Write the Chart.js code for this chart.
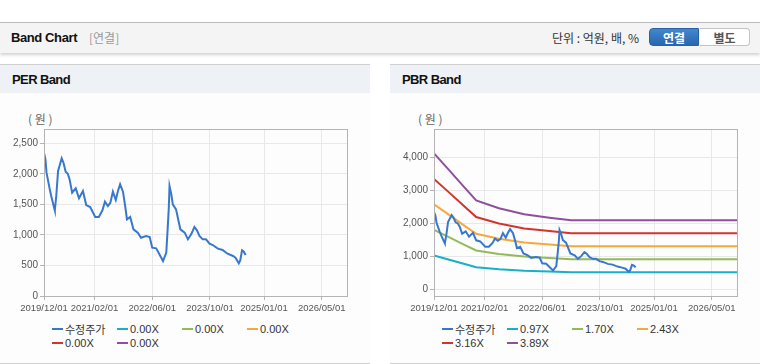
<!DOCTYPE html>
<html>
<head>
<meta charset="utf-8">
<script src="https://cdn.jsdelivr.net/npm/chart.js@4/dist/chart.umd.min.js"></script>
<style>
  body { margin: 0; width: 760px; height: 364px; background: #fff; position: relative; overflow: hidden;
         font-family: "Liberation Sans", "Noto Sans CJK KR", sans-serif; }
  #top { position: absolute; left: 0; top: 22px; width: 760px; height: 30px; background: #f4f4f4;
         border-top: 1px solid #bdbdbd; box-shadow: 0 2px 3px rgba(0,0,0,0.18); }
  #top .ttl { position: absolute; left: 11px; top: 7px; font-size: 13px; font-weight: bold; color: #111; letter-spacing: -0.4px; }
  #top .sub { position: absolute; left: 89px; top: 7px; font-size: 12px; color: #999; font-family: "Noto Sans CJK KR", sans-serif; line-height: 16px; }
  #top .unit { position: absolute; left: 552px; top: 6px; font-size: 12px; color: #333; font-family: "Noto Sans CJK KR", sans-serif; line-height: 18px; }
  .btn { position: absolute; top: 5px; height: 18px; width: 50px; text-align: center; font-size: 12px; font-weight: bold;
         line-height: 18px; font-family: "Noto Sans CJK KR", sans-serif; box-sizing: border-box; }
  .btn.on { left: 649px; background: linear-gradient(#4187cf, #2a66ae); color: #fff; border: 1px solid #2a60a4; border-radius: 4px 0 0 4px; }
  .btn.off { left: 700px; background: #fff; color: #555; border: 1px solid #c4c4c4; border-left: none; border-radius: 0 4px 4px 0; }
  .panel { position: absolute; top: 64px; width: 370px; height: 298px; background: #fdfdfd;
           border-top: 1px solid #d0d0d0; border-bottom: 1px solid #d0d0d0; }
  .panel .ph { height: 28px; background: #eef2f7; font-size: 13px; font-weight: bold; color: #111;
               padding-left: 12px; line-height: 29px; letter-spacing: -0.6px; }
  .panel .won { position: absolute; left: 28px; top: 45px; font-size: 12px; color: #666; font-family: "Noto Sans CJK KR", sans-serif; }
  .panel canvas { position: absolute; left: 0; top: 29px; }
  .legend { position: absolute; left: 52px; top: 257px; width: 264px; display: flex; flex-wrap: wrap; }
  .legend .it { width: 65px; height: 14px; display: flex; align-items: center; font-size: 11px; color: #333; }
  .legend .mk { width: 11px; height: 2px; margin-right: 2px; }
</style>
</head>
<body>
<div id="top">
  <span class="ttl">Band Chart</span><span class="sub">[연결]</span>
  <span class="unit">단위 : 억원, 배, %</span>
  <div class="btn on">연결</div><div class="btn off">별도</div>
</div>

<div class="panel" style="left:0">
  <div class="ph">PER Band</div>
  <div class="won">( 원 )</div>
  <canvas id="perChart" width="370" height="225"></canvas>
  <div class="legend" id="perLegend"></div>
</div>

<div class="panel" style="left:390px">
  <div class="ph">PBR Band</div>
  <div class="won">( 원 )</div>
  <canvas id="pbrChart" width="370" height="225"></canvas>
  <div class="legend" id="pbrLegend"></div>
</div>

<script>
// x values are months counted from 2019/12/01
const tickMonths = [0, 14, 30, 46, 61, 77];
const tickLabels = ["2019/12/01", "2021/02/01", "2022/06/01", "2023/10/01", "2025/01/01", "2026/05/01"];

const priceMonths = [0, 0.4, 0.7, 1.6, 2.0, 2.8, 3.0, 3.4, 3.9, 4.3,
  4.9, 5.4, 6.0, 6.6, 7.1, 7.8, 8.8, 9.7, 10.8, 11.7,
  12.8, 14.2, 15.2, 16.2, 16.9, 17.7, 18.4, 19.1, 19.9, 20.5,
  21.1, 21.9, 22.5, 23.0, 23.9, 24.8, 26.0, 26.9, 28.3, 29.3,
  30.0, 31.1, 33.0, 33.9, 34.3, 34.6, 34.8, 35.3, 35.7, 36.6,
  37.8, 39.0, 39.9, 40.8, 41.7, 42.4, 43.1, 44.0, 44.9, 45.9,
  46.8, 48.2, 49.5, 50.9, 52.4, 53.1, 54.0, 54.4, 54.9, 55.4,
  55.9];
const priceValues = [2347, 2238, 2020, 1747, 1638, 1447, 1403, 1638, 2047, 2129,
  2254, 2183, 2036, 2003, 1910, 1692, 1763, 1600, 1719, 1490,
  1457, 1294, 1294, 1403, 1545, 1474, 1528, 1709, 1572, 1719,
  1829, 1709, 1474, 1255, 1294, 1092, 1037, 955, 983, 966,
  792, 781, 573, 710, 1119, 1447, 1801, 1665, 1501, 1419,
  1092, 1037, 928, 1010, 1130, 1075, 983, 928, 928, 857,
  835, 775, 753, 693, 655, 628, 535, 584, 748, 726,
  671];

// PBR bands
const bandMonths = [0, 4, 8, 11.7, 18, 25, 32, 38, 84];
const band097 = [1030, 909, 786, 674, 614, 568, 543, 523, 523];
const band170 = [1805, 1593, 1377, 1182, 1076, 996, 952, 916, 916];
const band243 = [2581, 2277, 1968, 1689, 1538, 1424, 1361, 1310, 1310];
const band316 = [3356, 2961, 2560, 2196, 2000, 1852, 1770, 1703, 1703];
const band389 = [4131, 3645, 3151, 2704, 2462, 2280, 2178, 2097, 2097];

const seriesColors = ["#3778cd", "#17b0c6", "#92bb58", "#f4a93b", "#d2352b", "#8f4f9c"];
const perLabels = ["수정주가", "0.00X", "0.00X", "0.00X", "0.00X", "0.00X"];
const pbrLabels = ["수정주가", "0.97X", "1.70X", "2.43X", "3.16X", "3.89X"];

const perTicks = [0, 500, 1000, 1500, 2000, 2500];
const pbrTicks = [0, 1000, 2000, 3000, 4000];

function pts(xs, ys) {
  return xs.map((x, i) => ({ x: x, y: ys[i] }));
}

function lineSet(label, data, color) {
  return { label: label, data: data, borderColor: color, borderWidth: 2, pointRadius: 0, tension: 0, fill: false };
}

// draws the top and right sides of the plot box
const boxPlugin = {
  id: "box",
  afterDraw(chart) {
    const a = chart.chartArea, ctx = chart.ctx;
    ctx.save();
    ctx.strokeStyle = "#b4b4b4";
    ctx.lineWidth = 1;
    ctx.strokeRect(Math.round(a.left) + 0.5, Math.round(a.top) + 0.5, Math.round(a.right - a.left), Math.round(a.bottom - a.top));
    ctx.restore();
  }
};

function makeChart(id, datasets, yMin, yMax, yTicks) {
  const xFont = { family: "'Liberation Sans', sans-serif", size: 9.5 };
  const yFont = { family: "'Liberation Sans', sans-serif", size: 10 };
  return new Chart(document.getElementById(id), {
    type: "line",
    data: { datasets: datasets },
    plugins: [boxPlugin],
    options: {
      responsive: false,
      animation: false,
      layout: { padding: { top: 35, right: 23, left: 0, bottom: 0 } },
      plugins: { legend: { display: false }, tooltip: { enabled: false } },
      scales: {
        x: {
          type: "linear", min: 0, max: 84,
          afterBuildTicks: s => { s.ticks = tickMonths.map(v => ({ value: v })); },
          afterFit: s => { s.height = 23; },
          ticks: { callback: v => tickLabels[tickMonths.indexOf(v)], color: "#555", font: xFont, padding: 3, maxRotation: 0, autoSkip: false },
          grid: { color: "#e8e8e8", tickLength: 4, tickColor: "#b4b4b4" },
          border: { color: "#b4b4b4" }
        },
        y: {
          min: yMin, max: yMax,
          afterBuildTicks: s => { s.ticks = yTicks.map(v => ({ value: v })); },
          afterFit: s => { s.width = 44; },
          ticks: { callback: v => v.toLocaleString("en-US"), color: "#555", font: yFont, padding: 2 },
          grid: { color: "#e8e8e8", tickLength: 4, tickColor: "#b4b4b4" },
          border: { color: "#b4b4b4" }
        }
      }
    }
  });
}

makeChart("perChart", [lineSet(perLabels[0], pts(priceMonths, priceValues), seriesColors[0])], 0, 2735, perTicks);

makeChart("pbrChart", [
  lineSet(pbrLabels[0], pts(priceMonths, priceValues), seriesColors[0]),
  lineSet(pbrLabels[1], pts(bandMonths, band097), seriesColors[1]),
  lineSet(pbrLabels[2], pts(bandMonths, band170), seriesColors[2]),
  lineSet(pbrLabels[3], pts(bandMonths, band243), seriesColors[3]),
  lineSet(pbrLabels[4], pts(bandMonths, band316), seriesColors[4]),
  lineSet(pbrLabels[5], pts(bandMonths, band389), seriesColors[5])
], -200, 4870, pbrTicks);

function buildLegend(id, labels) {
  const box = document.getElementById(id);
  labels.forEach((lab, i) => {
    const it = document.createElement("div");
    it.className = "it";
    it.innerHTML = '<span class="mk" style="background:' + seriesColors[i] + '"></span><span>' + lab + '</span>';
    box.appendChild(it);
  });
}
buildLegend("perLegend", perLabels);
buildLegend("pbrLegend", pbrLabels);
</script>
</body>
</html>
